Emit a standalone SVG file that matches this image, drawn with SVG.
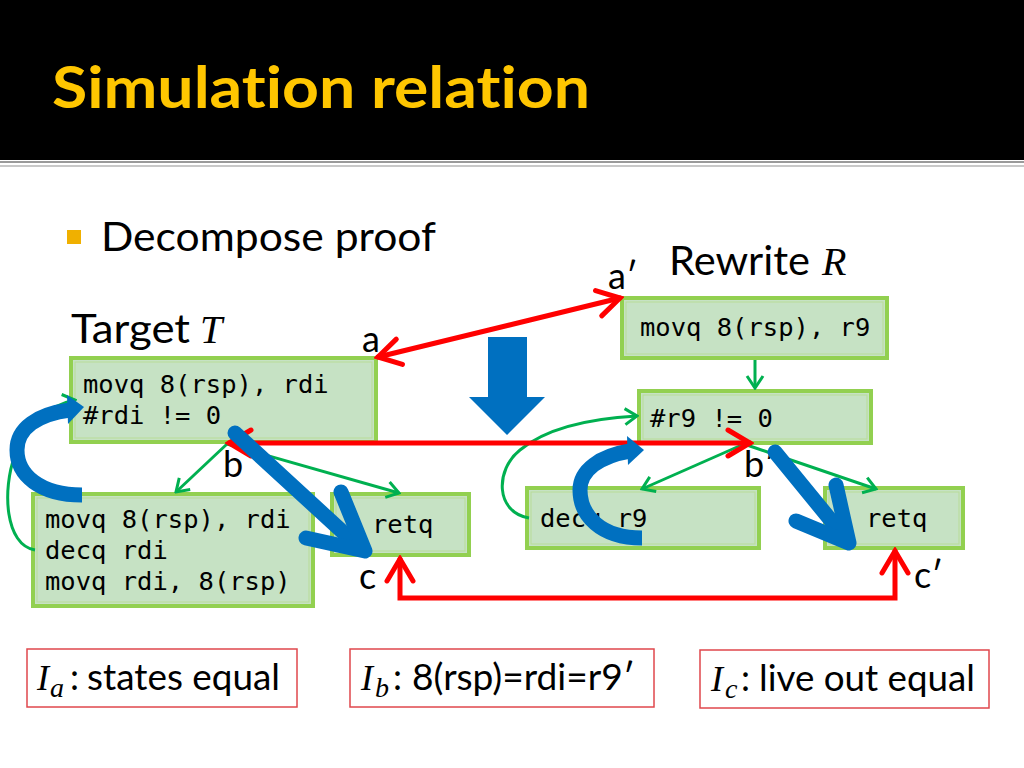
<svg xmlns="http://www.w3.org/2000/svg" width="1024" height="768" viewBox="0 0 1024 768">
<defs>
<style>
text{font-variant-ligatures:none}
.title{font-family:Lato,"Open Sans",sans-serif;font-weight:700;fill:#FFC600}
.body{font-family:Lato,"Open Sans",sans-serif;fill:#000}
.mono{font-family:"DejaVu Sans Mono","Liberation Mono",monospace;font-size:25.5px;fill:#000}
.math{font-family:"Liberation Serif",serif;font-style:italic;fill:#000}
.box{fill:#C6E2C4;stroke:#92D050;stroke-width:4}
.inner{fill:none;stroke:#B8DC98;stroke-width:1}
.inv{fill:#fff;stroke:#E0474C;stroke-width:1.5}
.g{fill:none;stroke:#00B050;stroke-width:3}
.r{fill:none;stroke:#FF0000;stroke-width:5;stroke-linecap:round}
.bl{fill:none;stroke:#0070C0;stroke-width:15;stroke-linecap:round;stroke-linejoin:round}
.bc{fill:none;stroke:#0070C0;stroke-width:15}
</style>
<marker id="ga" viewBox="-14 -10 16 20" markerWidth="16" markerHeight="20" refX="0" refY="0" orient="auto-start-reverse" markerUnits="userSpaceOnUse">
<path d="M -12 -8 L 0 0 L -12 8" fill="none" stroke="#00B050" stroke-width="3"/>
</marker>
<marker id="ra" viewBox="-26 -16 30 32" markerWidth="30" markerHeight="32" refX="0" refY="0" orient="auto-start-reverse" markerUnits="userSpaceOnUse">
<path d="M -22 -13 L 0 0 L -22 13" fill="none" stroke="#FF0000" stroke-width="5" stroke-linecap="round"/>
</marker>
</defs>
<rect width="1024" height="768" fill="#fff"/>
<rect x="0" y="0" width="1024" height="160" fill="#000"/>
<rect x="0" y="161" width="1024" height="2" fill="#9a9a9a"/>
<rect x="0" y="165" width="1024" height="2" fill="#c8c8c8"/>
<text class="title" x="52" y="108" font-size="58" textLength="538" lengthAdjust="spacingAndGlyphs">Simulation relation</text>
<rect x="67" y="230" width="14" height="14" fill="#F0B000"/>
<text class="body" x="101" y="251" font-size="40" textLength="335" lengthAdjust="spacingAndGlyphs">Decompose proof</text>
<text class="body" x="669" y="275" font-size="40" textLength="141" lengthAdjust="spacingAndGlyphs">Rewrite</text>
<text class="math" x="822" y="275" font-size="40">R</text>
<text class="body" x="71" y="343" font-size="40" textLength="119" lengthAdjust="spacingAndGlyphs">Target</text>
<text class="math" x="200" y="343" font-size="40">T</text>
<text class="body" x="362" y="352" font-size="36">a</text>
<text class="body" x="608" y="289" font-size="36">a′</text>
<text class="body" x="223" y="477" font-size="36">b</text>
<text class="body" x="744" y="477" font-size="36">b′</text>
<text class="body" x="359" y="589" font-size="36">c</text>
<text class="body" x="914" y="588" font-size="36">c′</text>

<g id="T1"><rect class="box" x="71" y="358" width="305" height="84"/><rect class="inner" x="75" y="362" width="297" height="76"/>
<text class="mono" x="83" y="393">movq 8(rsp), rdi</text><text class="mono" x="83" y="424">#rdi != 0</text></g>
<g id="T2"><rect class="box" x="33" y="494" width="280" height="112"/><rect class="inner" x="37" y="498" width="272" height="104"/>
<text class="mono" x="45" y="528">movq 8(rsp), rdi</text><text class="mono" x="45" y="559">decq rdi</text><text class="mono" x="45" y="590">movq rdi, 8(rsp)</text></g>
<g id="T3"><rect class="box" x="332" y="494" width="137" height="61"/><rect class="inner" x="336" y="498" width="129" height="53"/>
<text class="mono" x="372" y="533">retq</text></g>
<g id="R1"><rect class="box" x="622" y="298" width="265" height="60"/><rect class="inner" x="626" y="302" width="257" height="52"/>
<text class="mono" x="640" y="336">movq 8(rsp), r9</text></g>
<g id="R2"><rect class="box" x="639" y="391" width="232" height="52"/><rect class="inner" x="643" y="395" width="224" height="44"/>
<text class="mono" x="650" y="427">#r9 != 0</text></g>
<g id="R3"><rect class="box" x="527" y="488" width="232" height="60"/><rect class="inner" x="531" y="492" width="224" height="52"/>
<text class="mono" x="540" y="527">decq r9</text></g>
<g id="R4"><rect class="box" x="825" y="488" width="138" height="60"/><rect class="inner" x="829" y="492" width="130" height="52"/>
<text class="mono" x="866" y="527">retq</text></g>

<g id="I_a"><rect class="inv" x="27" y="649" width="270" height="58"/>
<text class="math" x="37" y="690" font-size="36">I</text><text class="math" x="50" y="697" font-size="28">a</text>
<text class="body" x="70" y="690" font-size="36">:</text>
<text class="body" x="87" y="690" font-size="36" textLength="193" lengthAdjust="spacingAndGlyphs">states equal</text></g>
<g id="I_b"><rect class="inv" x="350" y="649" width="304" height="58"/>
<text class="math" x="361" y="690" font-size="36">I</text><text class="math" x="375" y="697" font-size="28">b</text>
<text class="body" x="393" y="690" font-size="36">:</text>
<text class="body" x="412" y="690" font-size="36" textLength="223" lengthAdjust="spacingAndGlyphs">8(rsp)=rdi=r9′</text></g>
<g id="I_c"><rect class="inv" x="700" y="650" width="289" height="58"/>
<text class="math" x="711" y="691" font-size="36">I</text><text class="math" x="725" y="698" font-size="28">c</text>
<text class="body" x="741" y="691" font-size="36">:</text>
<text class="body" x="759" y="691" font-size="36" textLength="216" lengthAdjust="spacingAndGlyphs">live out equal</text></g>

<g id="connectors">
<path class="g" d="M 227 444 L 176 492" marker-end="url(#ga)"/>
<path class="g" d="M 227 444 L 399 493" marker-end="url(#ga)"/>
<path class="g" d="M 35 550 C 5 545, 2 490, 15 455 C 25 425, 50 405, 75 400" marker-end="url(#ga)"/>
<path class="g" d="M 755 360 L 755 388" marker-end="url(#ga)"/>
<path class="g" d="M 744 444 L 642 489" marker-end="url(#ga)"/>
<path class="g" d="M 744 444 L 876 489" marker-end="url(#ga)"/>
<path class="g" d="M 529 518 C 495 512, 495 470, 520 450 C 550 425, 600 418, 637 416" marker-end="url(#ga)"/>

<path class="r" d="M 378 357 L 620 298" marker-start="url(#ra)" marker-end="url(#ra)"/>
<path class="r" d="M 229 443 L 750 443" marker-start="url(#ra)" marker-end="url(#ra)"/>
<path class="r" d="M 400 559 V 598 H 895 V 551" marker-start="url(#ra)" marker-end="url(#ra)"/>

<polygon points="488,337 527,337 527,397 545,397 507,435 469,397 488,397" fill="#0070C0"/>
<path class="bc" d="M 82 495 C 40 495, 17 475, 17 450 C 17 428, 38 414, 70 410"/>
<polygon points="67,395 84,407 68,424" fill="#0070C0"/>
<path class="bc" d="M 642 538 C 600 538, 580 515, 580 490 C 580 470, 600 456, 630 451"/>
<polygon points="627,436 644,450 628,465" fill="#0070C0"/>
<path class="bl" d="M 235 433 L 358 546"/>
<path class="bl" d="M 341 492 L 365 551 L 306 538"/>
<path class="bl" d="M 775 452 L 847 540"/>
<path class="bl" d="M 836 485 L 849 543 L 796 521"/>
</g>
</svg>
